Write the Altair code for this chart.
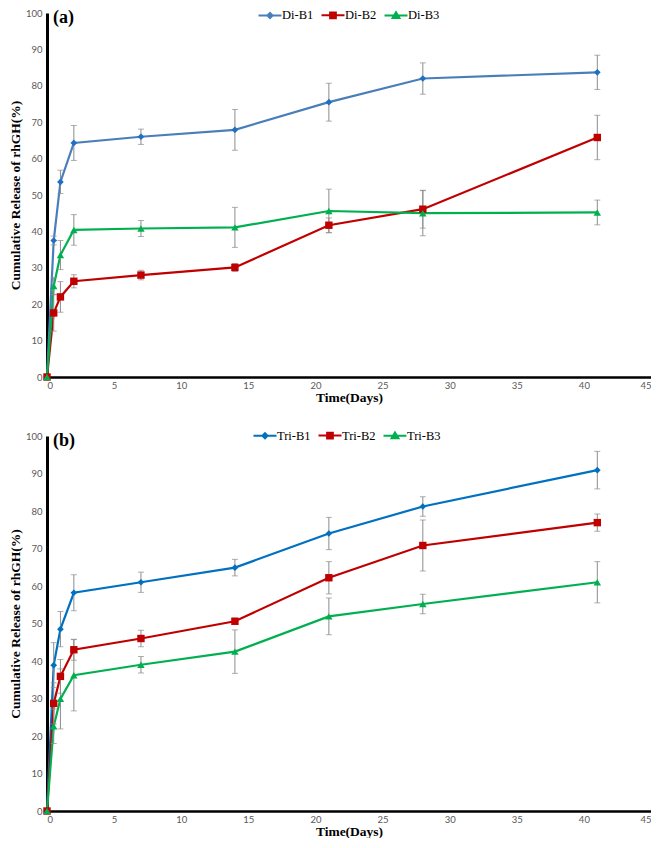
import altair as alt
import pandas as pd

days = [0, 0.5, 1, 2, 7, 14, 21, 28, 41]

di_names = ["Di-B1", "Di-B2", "Di-B3"]
di_b1 = [0, 37.5, 53.6, 64.3, 66.0, 67.9, 75.5, 82.0, 83.7]
di_b1_err = [0, 1.2, 3.2, 4.8, 2.1, 5.6, 5.2, 4.3, 4.7]
di_b2 = [0, 17.6, 22.0, 26.3, 28.0, 30.1, 41.7, 46.1, 65.8]
di_b2_err = [0, 5.0, 4.2, 1.8, 1.3, 1.1, 2.0, 5.2, 6.1]
di_b3 = [0, 25.0, 33.5, 40.4, 40.8, 41.1, 45.6, 45.0, 45.2]
di_b3_err = [0, 2.3, 4.0, 4.2, 2.2, 5.5, 6.0, 6.2, 3.4]

tri_names = ["Tri-B1", "Tri-B2", "Tri-B3"]
tri_b1 = [0, 38.9, 48.5, 58.2, 61.0, 64.9, 74.0, 81.2, 90.9]
tri_b1_err = [0, 6.0, 4.7, 4.8, 2.7, 2.2, 4.3, 2.6, 5.0]
tri_b2 = [0, 28.7, 35.9, 43.0, 46.0, 50.6, 62.2, 70.8, 76.9]
tri_b2_err = [0, 5.5, 4.5, 2.8, 2.2, 0.8, 4.3, 6.8, 2.3]
tri_b3 = [0, 22.6, 29.9, 36.2, 39.0, 42.5, 51.9, 55.2, 61.0]
tri_b3_err = [0, 4.6, 8.0, 9.5, 2.2, 5.8, 4.9, 2.6, 5.5]

x_ticks = [0, 5, 10, 15, 20, 25, 30, 35, 40, 45]
y_ticks = [0, 10, 20, 30, 40, 50, 60, 70, 80, 90, 100]

SERIF = "Liberation Serif"
SANS = "Lato"
ERR_COLOR = "#8c8c8c"
Y_TITLE = "Cumulative Release of rhGH(%)"
SHAPES = ["diamond", "square", "triangle-up"]
LEGEND_PATHS = [
    "M-2,0H2M0,-0.45L0.45,0L0,0.45L-0.45,0Z",
    "M-2,0H2M-0.5,-0.5H0.5V0.5H-0.5Z",
    "M-2,0H2M0,-0.55L0.6,0.45L-0.6,0.45Z",
]


def yenc(field):
    return alt.Y(field, scale=alt.Scale(domain=[0, 100], nice=False),
                 axis=alt.Axis(values=y_ticks, title=Y_TITLE,
                               titleFont=SERIF))


def make_panel(names, series, errs, line_colors, marker_colors, label,
               height, legend_x, legend_y):
    rows = []
    for name, vals, er in zip(names, series, errs):
        for d, v, e in zip(days, vals, er):
            rows.append({"series": name, "day": d, "value": v, "err": e,
                         "lo": v - e, "hi": v + e})
    df = pd.DataFrame(rows)

    x = alt.X("day:Q", scale=alt.Scale(domain=[0, 45], nice=False),
              axis=alt.Axis(values=x_ticks, title="Time(Days)",
                            titleFont=SERIF))
    y = yenc("value:Q")

    leg = alt.Legend(
        orient="none", direction="horizontal", title=None,
        legendX=legend_x, legendY=legend_y,
        labelFont=SERIF, labelFontSize=12.5, labelColor="black",
        labelOffset=5, columnPadding=3, symbolStrokeWidth=2,
        symbolSize=132, symbolOpacity=1,
    )
    stroke_scale = alt.Scale(domain=names, range=line_colors)

    base = alt.Chart(df)
    lines = base.mark_line(strokeWidth=2.2).encode(
        x=x, y=y,
        stroke=alt.Stroke("series:N", scale=stroke_scale, legend=leg),
        detail="series:N",
    )
    errdf = base.transform_filter("datum.err > 0")
    rules = errdf.mark_rule(color=ERR_COLOR, strokeWidth=1).encode(
        x=x, y=yenc("lo:Q"), y2="hi:Q")
    cap_lo = errdf.mark_tick(orient="horizontal", size=6, thickness=1,
                             color=ERR_COLOR).encode(x=x, y=yenc("lo:Q"))
    cap_hi = errdf.mark_tick(orient="horizontal", size=6, thickness=1,
                             color=ERR_COLOR).encode(x=x, y=yenc("hi:Q"))

    point_layers = []
    sizes = [45, 55, 55]
    for name, shp, col, sz in zip(names, SHAPES, marker_colors, sizes):
        point_layers.append(
            base.transform_filter(alt.datum.series == name)
            .mark_point(shape=shp, filled=True, size=sz, color=col, opacity=1)
            .encode(x=x, y=y)
        )

    legend_layer = (
        base.mark_point(filled=True, strokeWidth=2, size=0, opacity=1)
        .encode(
            x=x, y=y,
            fill=alt.Fill("series:N",
                          scale=alt.Scale(domain=names, range=marker_colors),
                          legend=leg),
            stroke=alt.Stroke("series:N", scale=stroke_scale, legend=leg),
            shape=alt.Shape("series:N",
                            scale=alt.Scale(domain=names, range=LEGEND_PATHS),
                            legend=leg),
        )
    )

    label_layer = alt.Chart(pd.DataFrame({"label": [label]})).mark_text(
        font=SERIF, fontSize=18, fontWeight="bold", color="black",
        align="left", baseline="middle",
    ).encode(text="label:N", x=alt.value(6), y=alt.value(5))

    return alt.layer(lines, rules, cap_lo, cap_hi, *point_layers,
                     legend_layer, label_layer).properties(
        width=604, height=height,
    )


panel_a = make_panel(
    di_names, [di_b1, di_b2, di_b3], [di_b1_err, di_b2_err, di_b3_err],
    ["#4a7ebb", "#c00000", "#00b050"], ["#1f6fc5", "#c00000", "#00b050"],
    "(a)", 364, 216, -4.75)
panel_b = make_panel(
    tri_names, [tri_b1, tri_b2, tri_b3], [tri_b1_err, tri_b2_err, tri_b3_err],
    ["#0070c0", "#c00000", "#00b050"], ["#0070c0", "#c00000", "#00b050"],
    "(b)", 375, 211, -7.5)

chart = alt.vconcat(panel_a, panel_b, spacing=24).resolve_scale(
    color="independent", fill="independent", stroke="independent",
    shape="independent",
).resolve_legend(
    color="independent", fill="independent", stroke="independent",
    shape="independent",
).properties(
    padding={"left": 0, "top": 0, "right": 0, "bottom": 0}
).configure_view(stroke=None).configure_axis(
    grid=False, ticks=False, domainColor="black",
    labelFont=SANS, labelFontSize=9.5, labelColor="#595959",
    titleFont=SERIF, titleFontSize=13.5, titleFontWeight="bold",
    titleColor="black",
).configure_axisX(
    domainWidth=2.5, labelPadding=3, titlePadding=1,
).configure_axisY(
    domainWidth=3, labelPadding=5, titlePadding=3,
)

chart.save("out.html", embed_options={"renderer": "svg", "actions": False})
